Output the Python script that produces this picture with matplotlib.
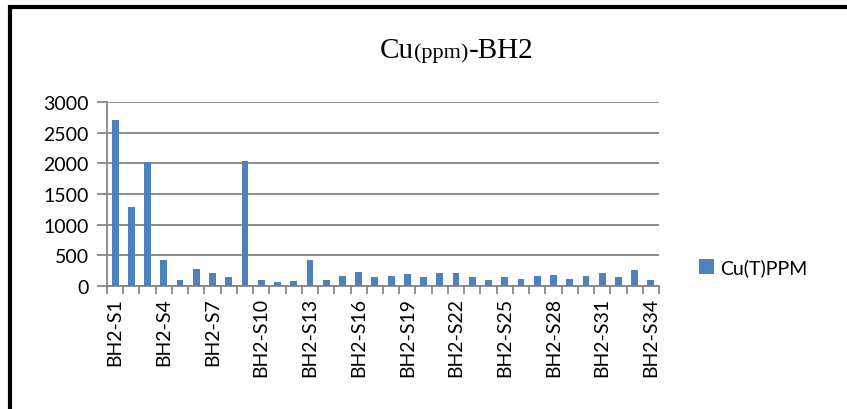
import matplotlib.pyplot as plt
from matplotlib.patches import Rectangle

# Cu(T) ppm per sample, borehole BH2
samples = ['BH2-S%d' % i for i in range(1, 35)]
cu_ppm = [2700, 1280, 2020, 420, 95, 280, 220, 140, 2030, 95,
          65, 75, 420, 95, 155, 235, 140, 155, 190, 140,
          220, 220, 140, 105, 140, 120, 170, 185, 120, 155,
          220, 140, 260, 90]
yticks = [0, 500, 1000, 1500, 2000, 2500, 3000]

W, H = 847, 410
fig = plt.figure(figsize=(W / 100, H / 100), dpi=100)
plt.rcParams['font.family'] = ['Lato', 'DejaVu Sans']

ax = fig.add_axes([107 / W, 1 - 287 / H, (659 - 107) / W, (287 - 103) / H])
x = list(range(len(samples)))
ax.bar(x, cu_ppm, width=0.42, color='#4F81BD', label='Cu(T)PPM', zorder=3)

ax.set_xlim(-0.5, len(samples) - 0.5)
ax.set_ylim(0, 3000)
ax.set_yticks(yticks)
ax.set_yticklabels([str(v) for v in yticks], fontsize=14)
ax.yaxis.grid(True, color='#868686', linewidth=1.3, zorder=0)

# category boundary ticks, labels every third sample
ax.set_xticks([i - 0.5 for i in range(len(samples) + 1)], minor=True)
ax.set_xticks(x[::3])
ax.set_xticklabels(samples[::3], rotation=90, fontsize=14)
ax.tick_params(axis='x', which='major', length=0, pad=8)
ax.tick_params(axis='x', which='minor', length=6, width=1.3, color='#868686')
ax.tick_params(axis='y', length=7, width=1.3, color='#868686', pad=6)

for s in ['top', 'right']:
    ax.spines[s].set_visible(False)
for s in ['left', 'bottom']:
    ax.spines[s].set_color('#868686')
    ax.spines[s].set_linewidth(1.3)

ax.legend(loc='center left', bbox_to_anchor=(681 / W, 1 - 268 / H),
          bbox_transform=fig.transFigure, frameon=False, fontsize=14,
          handlelength=0.8, handleheight=0.8, handletextpad=0.3)

# title with smaller "(ppm)"
fig.canvas.draw()
r = fig.canvas.get_renderer()
parts = [('Cu', 21), ('(ppm)', 16), ('-BH2', 21)]
tx = 380 / W
ty = 1 - 58 / H
for txt, sz in parts:
    t = fig.text(tx, ty, txt, fontsize=sz, family='Liberation Serif', va='baseline')
    bb = t.get_window_extent(renderer=r)
    tx += bb.width / W

# outer black frame (only left and top visible in the picture)
fig.patches.append(Rectangle((10 / W, -0.1), 2, 1 - 7.5 / H + 0.1,
                             transform=fig.transFigure, fill=False,
                             edgecolor='black', linewidth=3))

fig.savefig('out.png', dpi=100)
